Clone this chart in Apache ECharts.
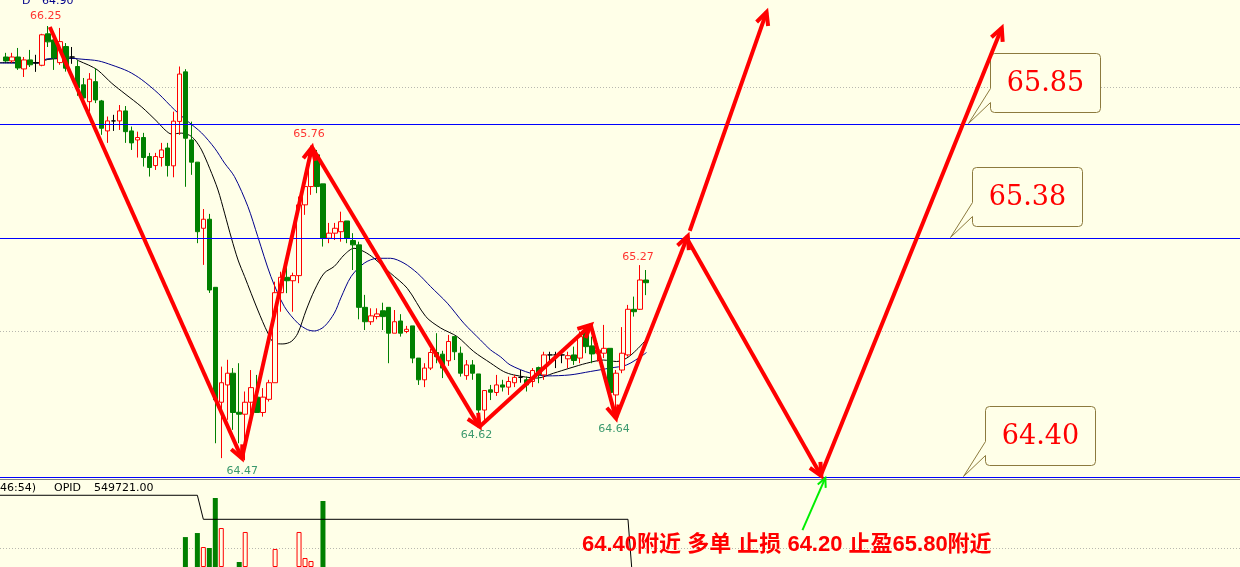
<!DOCTYPE html>
<html><head><meta charset="utf-8">
<script src="https://cdn.jsdelivr.net/npm/echarts@6/dist/echarts.min.js"></script>
<style>html,body{margin:0;padding:0;background:#ffffe8;}#c{width:1240px;height:567px;}</style>
</head><body><div id="c"></div>
<script>
// ---------- DATA ----------
const opens  = [66.123,66.107,66.123,66.074,66.111,66.099,66.089,66.218,66.193,66.100,66.166,66.123,66.084,66.009,65.940,66.022,65.943,65.820,65.861,65.861,65.902,65.820,65.783,65.793,65.715,65.678,65.711,65.750,65.677,65.859,66.062,65.783,65.692,65.421,65.458,65.179,64.708,64.779,64.827,64.667,64.659,64.708,64.729,64.666,64.720,64.788,65.157,65.220,65.206,65.227,65.517,65.592,65.722,65.603,65.380,65.401,65.407,65.451,65.371,65.353,65.097,65.038,65.059,65.083,65.097,64.991,65.041,64.998,65.021,64.889,64.800,64.848,64.912,64.905,64.878,64.977,64.909,64.817,64.861,64.824,64.676,64.759,64.748,64.779,64.770,64.788,64.810,64.800,64.793,64.850,64.820,64.902,64.902,64.902,64.886,64.902,64.889,64.998,64.939,64.909,64.909,64.929,64.738,64.840,64.902,65.089,65.089,65.209];
const closes = [66.107,66.123,66.078,66.111,66.091,66.099,66.214,66.185,66.119,66.186,66.077,66.123,65.996,65.955,66.032,65.947,65.831,65.861,65.861,65.902,65.817,65.771,65.793,65.711,65.670,65.715,65.742,65.678,65.860,66.053,65.790,65.692,65.407,65.458,65.168,64.718,64.788,64.827,64.666,64.659,64.708,64.768,64.666,64.729,64.788,65.157,65.220,65.206,65.227,65.517,65.592,65.724,65.592,65.380,65.401,65.421,65.448,65.380,65.353,65.097,65.038,65.062,65.070,65.059,64.991,65.038,64.991,65.007,64.889,64.800,64.848,64.912,64.895,64.848,64.957,64.915,64.827,64.861,64.827,64.676,64.756,64.749,64.779,64.770,64.793,64.810,64.810,64.779,64.838,64.820,64.902,64.902,64.902,64.902,64.899,64.879,64.977,64.936,64.906,64.922,64.929,64.748,64.827,64.909,65.089,65.079,65.209,65.198];
const lows   = [66.103,66.099,66.070,66.041,66.082,66.062,66.085,66.164,66.070,66.091,66.063,66.095,65.964,65.935,65.899,65.934,65.804,65.771,65.820,65.824,65.771,65.742,65.711,65.674,65.633,65.660,65.674,65.633,65.630,65.804,65.591,65.640,65.360,65.271,65.156,64.540,64.479,64.636,64.595,64.540,64.470,64.663,64.666,64.649,64.711,64.788,65.079,65.155,65.079,65.196,65.476,65.558,65.565,65.346,65.360,65.373,65.366,65.360,65.250,65.048,65.004,65.025,65.048,65.004,64.868,64.991,64.977,64.991,64.868,64.779,64.770,64.840,64.868,64.807,64.857,64.881,64.813,64.800,64.800,64.649,64.620,64.717,64.734,64.752,64.738,64.770,64.788,64.752,64.770,64.786,64.800,64.868,64.848,64.868,64.848,64.861,64.868,64.909,64.868,64.875,64.889,64.731,64.640,64.827,64.895,65.059,65.086,65.147];
const highs  = [66.140,66.140,66.160,66.123,66.152,66.132,66.218,66.250,66.207,66.242,66.180,66.164,66.111,66.037,66.057,66.077,65.947,65.879,65.886,65.926,65.922,65.838,65.817,65.812,65.730,65.730,65.771,65.771,65.899,66.084,66.073,65.858,65.692,65.500,65.480,65.179,64.854,64.882,64.848,64.868,64.752,64.840,64.820,64.766,64.800,65.202,65.243,65.271,65.239,65.551,65.626,65.760,65.742,65.603,65.443,65.443,65.489,65.451,65.401,65.366,65.148,65.093,65.093,65.116,65.097,65.086,65.069,65.021,65.021,64.889,64.868,64.926,64.991,64.919,64.984,64.977,64.936,64.881,64.881,64.824,64.756,64.779,64.820,64.800,64.813,64.820,64.840,64.813,64.848,64.854,64.915,64.915,64.915,64.915,64.915,64.936,64.998,65.018,64.977,64.950,65.025,64.929,64.840,65.016,65.107,65.141,65.270,65.250];

// moving averages (candle index, price)
const maFastIdx = [-1,5.5,7,11.5,12.1,13.8,15.4,17.7,19.9,22.7,25.4,26.6,27.7,29.3,30.7,31.6,32.7,34.05,35.45,36.55,37.7,38.8,39.9,42.1,43.8,44.9,46.3,47.7,48.8,50.2,51.6,53.2,54.9,56.55,58.2,59.9,61.55,64.3,67.1,70.2,72.7,75.45,78.2,81,83.2,84.9,88.8,91.55,94.3,97.1,99.9,102.1,103.8,105.45,107.1];
const maFastVal = [66.100,66.100,66.113,66.118,66.108,66.090,66.068,66.015,65.972,65.918,65.855,65.824,65.807,65.811,65.802,65.783,65.742,65.667,65.578,65.483,65.380,65.291,65.223,65.086,64.991,64.950,64.947,64.957,64.991,65.086,65.168,65.237,65.265,65.312,65.339,65.325,65.298,65.237,65.175,65.059,65.012,64.977,64.916,64.869,64.834,64.820,64.807,64.827,64.848,64.868,64.881,64.875,64.889,64.923,64.966];
const maSlowIdx = [-1,5.5,6.8,10.5,12.7,15.45,17.7,20.45,22.7,25.45,28.2,30.45,32.7,34.9,36.55,38.2,40.45,42.1,44.3,46.55,48.8,50.45,51.55,53.2,54.9,56,57.7,59.9,62.1,64.3,66.55,68.8,71,73.8,76.55,79.3,81,82.7,84.3,87.7,90.45,94.3,97.7,101,103.8,106.55,107.1];
const maSlowVal = [66.098,66.098,66.115,66.118,66.114,66.107,66.090,66.064,66.030,65.974,65.906,65.858,65.812,65.749,65.688,65.633,65.510,65.387,65.223,65.100,65.032,65.005,65.000,65.018,65.073,65.136,65.223,65.278,65.298,65.298,65.278,65.237,65.182,65.114,65.032,64.964,64.923,64.894,64.861,64.827,64.816,64.820,64.834,64.848,64.861,64.902,64.912];

// lower panel
const volumeIdx = [30,32,33,34,35,36,39,40,45,49,50,51,53];
const volumeVal = [34,38.6,22.7,21.6,78.4,44.3,5.7,39.8,20.5,39.8,10.2,6.8,75];
const opidIdx = [-1,32,33,104,105];
const opidVal = [81.5,81.5,54.2,54.2,-34];
const opidGrid = [21.25];

// levels and annotations
const levelPrices = [65.85, 65.38, 64.40];
const calloutIdx = [160.83, 157.83, 160];
const calloutText = ['65.85', '65.38', '64.40'];
const gridPrices = [66.00, 65.00];
const pivotIdx = [7, 51, 40, 80, 102, 106];
const pivotPrice = [66.25, 65.76, 64.47, 64.62, 64.64, 65.27];
const pivotLabels = ['66.25', '65.76', '64.47', '64.62', '64.64', '65.27'];
const pivotIsHigh = [true, true, false, false, false, true];
const arrowFromIdx   = [7.33, 39.45, 51.17, 79.17, 97.78, 102, 114.33, 114, 136.33, 133.17];
const arrowFromPrice = [66.246, 64.478, 65.753, 64.608, 65.025, 64.642, 65.410, 65.373, 64.414, 64.184];
const arrowToIdx     = [39.45, 51.17, 79.17, 97.78, 102, 114, 127.17, 136.33, 166.5, 137];
const arrowToPrice   = [64.478, 65.753, 64.608, 65.025, 64.642, 65.389, 66.307, 64.406, 66.242, 64.398];
const arrowKind      = [0,0,0,0,0,0,0,0,0,1];
const planText = '64.40附近 多单 止损 64.20 止盈65.80附近';

// ---------- STYLE / BUILD ----------
const BG = '#ffffe8';
const pivotLabelOffset = [[-2,-10],[-2,-11],[-3,11],[-8,11],[-2,10],[-2,-8]];

const candleData = opens.map((o, i) => [i, o, closes[i], lows[i], highs[i]]);
const volData = volumeIdx.map((x, k) => {
  const up = closes[x] >= opens[x];
  return { value: [x, volumeVal[k]], itemStyle: up ? { color: BG, borderColor: '#ff0000', borderWidth: 1 } : { color: '#008000', borderColor: '#008000', borderWidth: 0 } };
});

function hLine(color, dash) {
  return function (params, api) {
    const y = Math.round(api.coord([0, api.value(1)])[1]) + 0.5;
    return { type: 'line', shape: { x1: 0, y1: y, x2: 1240, y2: y },
      style: { stroke: color, lineWidth: 1, lineDash: dash || null } };
  };
}

function renderArrow(params, api) {
  const a = api.coord([api.value(0), api.value(1)]);
  const b = api.coord([api.value(2), api.value(3)]);
  const kind = api.value(4);
  const color = kind === 1 ? '#00ee00' : '#ff0000';
  const w = kind === 1 ? 2 : 4;
  const ang = Math.atan2(b[1] - a[1], b[0] - a[0]);
  const L = kind === 1 ? 10 : 14, s = 0.45;
  const p1 = [b[0] - L * Math.cos(ang - s), b[1] - L * Math.sin(ang - s)];
  const p2 = [b[0] - L * Math.cos(ang + s), b[1] - L * Math.sin(ang + s)];
  return { type: 'group', children: [
    { type: 'line', shape: { x1: a[0], y1: a[1], x2: b[0], y2: b[1] }, style: { stroke: color, lineWidth: w } },
    { type: 'polyline', shape: { points: [p1, b, p2] }, style: { stroke: color, lineWidth: w, fill: null } }
  ] };
}

function renderCallout(params, api) {
  const tip = api.coord([api.value(0), api.value(1)]);
  const tx = Math.round(tip[0]) + 0.5, ty = Math.round(tip[1]) - 0.5;
  const L = tx + 22, T = ty - 70, W = 110, H = 59, r = 4;
  const a1 = T + 35, a2 = T + 49;
  const d = 'M' + L + ' ' + a1 + ' L' + tx + ' ' + ty + ' L' + L + ' ' + a2 +
    ' L' + L + ' ' + (T + H - r) + ' Q' + L + ' ' + (T + H) + ' ' + (L + r) + ' ' + (T + H) +
    ' L' + (L + W - r) + ' ' + (T + H) + ' Q' + (L + W) + ' ' + (T + H) + ' ' + (L + W) + ' ' + (T + H - r) +
    ' L' + (L + W) + ' ' + (T + r) + ' Q' + (L + W) + ' ' + T + ' ' + (L + W - r) + ' ' + T +
    ' L' + (L + r) + ' ' + T + ' Q' + L + ' ' + T + ' ' + L + ' ' + (T + r) + ' Z';
  return { type: 'group', children: [
    { type: 'path', shape: { pathData: d }, style: { fill: BG, stroke: '#8c7a3e', lineWidth: 1 } },
    { type: 'text', style: { text: calloutText[params.dataIndex], x: L + W / 2, y: T + H / 2 + 1, fill: '#ff0000', font: '27px "DejaVu Serif"', align: 'center', verticalAlign: 'middle' } }
  ] };
}

const chart = echarts.init(document.getElementById('c'), null, { renderer: 'canvas', width: 1240, height: 567 });
chart.setOption({
  animation: false,
  backgroundColor: BG,
  grid: [
    { left: -2, right: -2, top: 0, height: 479 },
    { left: -2, right: -2, top: 479, height: 88 }
  ],
  xAxis: [
    { type: 'value', gridIndex: 0, min: -1, max: 206.3333, show: false },
    { type: 'value', gridIndex: 1, min: -1, max: 206.3333, show: false }
  ],
  yAxis: [
    { type: 'value', gridIndex: 0, min: 64.39345, max: 66.35656, show: false },
    { type: 'value', gridIndex: 1, min: 0, max: 100, show: false }
  ],
  series: [
    {
      type: 'custom', xAxisIndex: 0, yAxisIndex: 0, z: 1, clip: false,
      data: gridPrices.map(p => [0, p]), encode: { x: 0, y: 1 },
      renderItem: hLine('#b8b8b0', [1, 2])
    },
    {
      type: 'candlestick', xAxisIndex: 0, yAxisIndex: 0, barWidth: 5, z: 2,
      data: candleData,
      encode: { x: 0, y: [1, 2, 3, 4] },
      itemStyle: { color: BG, color0: '#008000', borderColor: '#ff0000', borderColor0: '#008000', borderColorDoji: '#000000', borderWidth: 1 }
    },
    {
      type: 'custom', xAxisIndex: 0, yAxisIndex: 0, z: 3, clip: false,
      data: levelPrices.map(p => [0, p]), encode: { x: 0, y: 1 },
      renderItem: hLine('#0000ff', null)
    },
    {
      type: 'line', xAxisIndex: 0, yAxisIndex: 0, z: 2,
      data: maFastIdx.map((x, k) => [x, maFastVal[k]]),
      symbol: 'none', smooth: 0.3, lineStyle: { color: '#000000', width: 1 }
    },
    {
      type: 'line', xAxisIndex: 0, yAxisIndex: 0, z: 2,
      data: maSlowIdx.map((x, k) => [x, maSlowVal[k]]),
      symbol: 'none', smooth: 0.3, lineStyle: { color: '#00008b', width: 1 }
    },
    {
      type: 'scatter', xAxisIndex: 0, yAxisIndex: 0, z: 6,
      symbolSize: 1, itemStyle: { color: 'rgba(0,0,0,0)' },
      data: pivotIdx.map((x, k) => ({
        value: [x, pivotPrice[k]],
        label: { offset: pivotLabelOffset[k], color: pivotIsHigh[k] ? '#ff0000' : '#0a7f4f' }
      })),
      label: { show: true, position: 'inside', fontSize: 11, fontFamily: 'DejaVu Sans', textBorderWidth: 0,
        formatter: p => pivotLabels[p.dataIndex] }
    },
    {
      type: 'custom', xAxisIndex: 0, yAxisIndex: 0, z: 4, clip: false,
      data: calloutIdx.map((x, k) => [x, levelPrices[k]]),
      encode: { x: 0, y: 1 },
      renderItem: renderCallout
    },
    {
      type: 'custom', xAxisIndex: 0, yAxisIndex: 0, z: 10, clip: false,
      data: arrowFromIdx.map((x, k) => [x, arrowFromPrice[k], arrowToIdx[k], arrowToPrice[k], arrowKind[k]]),
      encode: { x: [0, 2], y: [1, 3] },
      renderItem: renderArrow
    },
    {
      type: 'custom', xAxisIndex: 1, yAxisIndex: 1, z: 1, clip: false,
      data: opidGrid.map(v => [0, v]), encode: { x: 0, y: 1 },
      renderItem: hLine('#b8b8b0', [1, 2])
    },
    {
      type: 'bar', xAxisIndex: 1, yAxisIndex: 1, barWidth: 5, z: 2,
      data: volData
    },
    {
      type: 'line', xAxisIndex: 1, yAxisIndex: 1, z: 3,
      data: opidIdx.map((x, k) => [x, opidVal[k]]),
      symbol: 'none', lineStyle: { color: '#000000', width: 1 }
    }
  ],
  graphic: [
    { type: 'line', z: 5, shape: { x1: 0, y1: 479.5, x2: 1240, y2: 479.5 }, style: { stroke: '#808080', lineWidth: 1 } },
    { type: 'text', z: 6, style: { text: 'D', x: 22, y: 1, fill: '#00008b', font: '11px "DejaVu Sans"', verticalAlign: 'middle' } },
    { type: 'text', z: 6, style: { text: '64.90', x: 42, y: 1, fill: '#00008b', font: '11px "DejaVu Sans"', verticalAlign: 'middle' } },
    { type: 'text', z: 6, style: { text: '46:54)', x: 0, y: 488, fill: '#000000', font: '11px "DejaVu Sans"', verticalAlign: 'middle' } },
    { type: 'text', z: 6, style: { text: 'OPID', x: 54, y: 488, fill: '#000000', font: '11px "DejaVu Sans"', verticalAlign: 'middle' } },
    { type: 'text', z: 6, style: { text: '549721.00', x: 94, y: 488, fill: '#000000', font: '11px "DejaVu Sans"', verticalAlign: 'middle' } },
    { type: 'text', z: 6, style: { text: planText, x: 582, y: 545, fill: '#ff0000', font: 'bold 22px "Liberation Sans", "Noto Sans CJK SC"', verticalAlign: 'middle' } }
  ]
});
</script></body></html>
